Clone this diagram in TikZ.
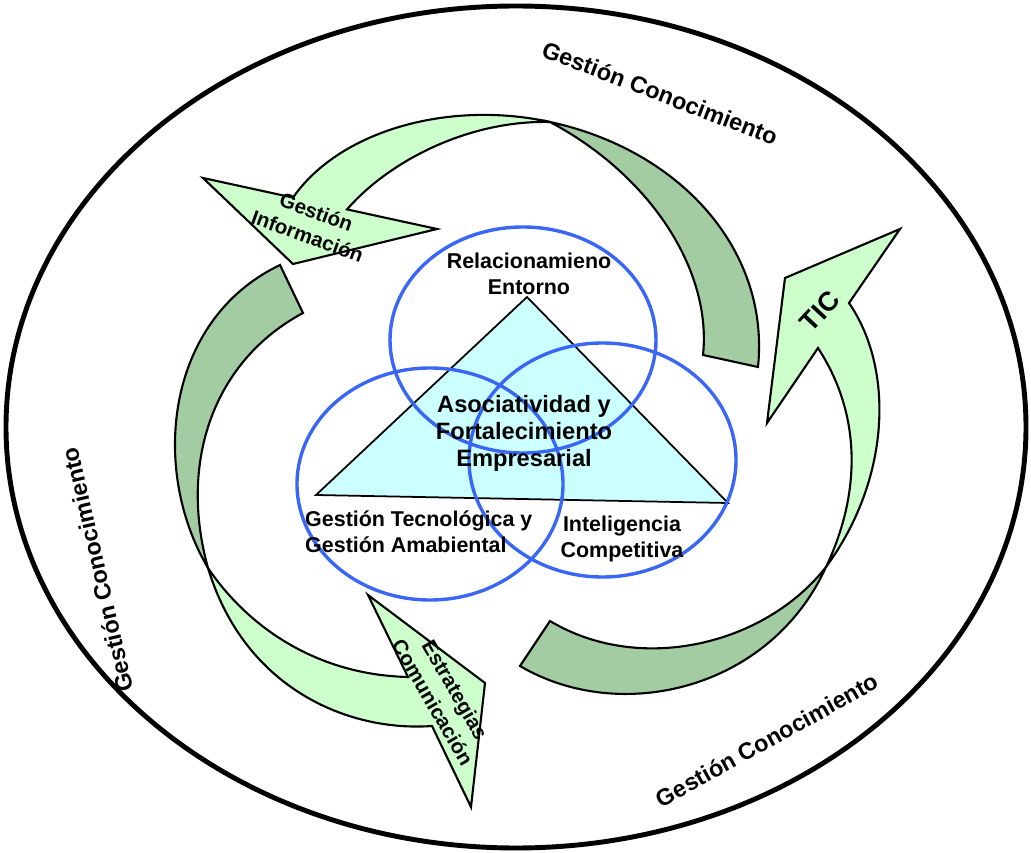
\documentclass[tikz,border=0pt]{standalone}
\usepackage{fontspec}
\setmainfont{Liberation Sans}
\definecolor{lightg}{HTML}{CCFFCC}
\definecolor{darkg}{HTML}{A3CCA3}
\definecolor{tricol}{HTML}{CCFFFF}
\definecolor{circol}{HTML}{3A66F5}
\tikzset{
  lightarrow/.style={fill=lightg, draw=black, line width=1.8pt, line join=miter},
  darkarrow/.style={fill=darkg, draw=black, line width=1.8pt, line join=miter},
  ring/.style={draw=circol, line width=2.9pt},
  lbl/.style={font=\fontsize{18.3}{22}\selectfont\bfseries, align=center, inner sep=0pt},
  biglbl/.style={font=\fontsize{20.2}{23}\selectfont\bfseries, align=center, inner sep=0pt},
  outerlbl/.style={font=\fontsize{20}{24}\selectfont\bfseries, inner sep=0pt},
  arrlbl/.style={font=\fontsize{17.5}{22}\selectfont\bfseries, align=center, inner sep=0pt},
}
\begin{document}
\begin{tikzpicture}[x=0.03cm,y=-0.03cm]
\useasboundingbox (0,0) rectangle (1031,853);
% outer ellipse
\draw[line width=4.2pt] (516,427) ellipse [x radius=510, y radius=421];

% arrow 1 (Gestion Informacion)
\filldraw[darkarrow] (550,122) .. controls (680,150) and (770,250) .. (758,367)
  -- (703,355) .. controls (712,270) and (650,175) .. (550,122) -- cycle;
\filldraw[lightarrow] (203,178) -- (293,197.6)
  .. controls (340,130) and (450,100) .. (550,122)
  .. controls (470,120) and (390,160) .. (347,209.4)
  -- (437,229) -- (293,264) -- cycle;

% arrow 2 (TIC)
\filldraw[darkarrow] (826,567) .. controls (765,645) and (640,675) .. (550,621)
  -- (520,666) .. controls (620,725) and (770,690) .. (826,567) -- cycle;
\filldraw[lightarrow] (900,229) -- (785,278) -- (767,423) -- (818,348)
  .. controls (865,420) and (858,500) .. (826,567)
  .. controls (890,480) and (895,370) .. (849,303) -- cycle;

% arrow 3 (Estrategias Comunicacion)
\filldraw[darkarrow] (280,265) -- (303,313)
  .. controls (215,360) and (178,460) .. (208,568)
  .. controls (150,470) and (165,320) .. (280,265) -- cycle;
\filldraw[lightarrow] (368,595) -- (408,677)
  .. controls (320,675) and (250,630) .. (208,568)
  .. controls (245,690) and (350,732) .. (432,726)
  -- (471,807) -- (485,683) -- cycle;

% triangle
\filldraw[fill=tricol, draw=black, line width=1.5pt] (527,297) -- (728,503) -- (316,495) -- cycle;

% circles
\draw[ring] (523,340) ellipse [x radius=133, y radius=113];
\draw[ring] (430,484) ellipse [x radius=133, y radius=116];
\draw[ring] (602.5,460) ellipse [x radius=133.5, y radius=117];

% texts
\node[lbl] (rel) at (529,274) {Relacionamieno\\Entorno};
\node[biglbl] (aso) at (524,433) {Asociatividad y\\Fortalecimiento\\Empresarial};
\node[lbl, align=left, anchor=west] (gtec) at (305,532) {Gestión Tecnológica y\\Gestión Amabiental};
\node[lbl] (intel) at (622,539) {Inteligencia\\Competitiva};

\node[outerlbl, rotate=-21] (gc1) at (660,93) {Gestión Conocimiento};
\node[outerlbl, rotate=103] (gc2) at (97,570) {Gestión Conocimiento};
\node[outerlbl, rotate=29] (gc3) at (767,740) {Gestión Conocimiento};

\node[arrlbl, rotate=-20] (ginf) at (312,224) {Gestión\\Información};
\node[arrlbl, font=\fontsize{23}{26}\selectfont\bfseries, rotate=47] (tic) at (820,311) {TIC};
\node[arrlbl, rotate=-60] (estr) at (444,696) {Estrategias\\Comunicación};
\end{tikzpicture}
\end{document}
